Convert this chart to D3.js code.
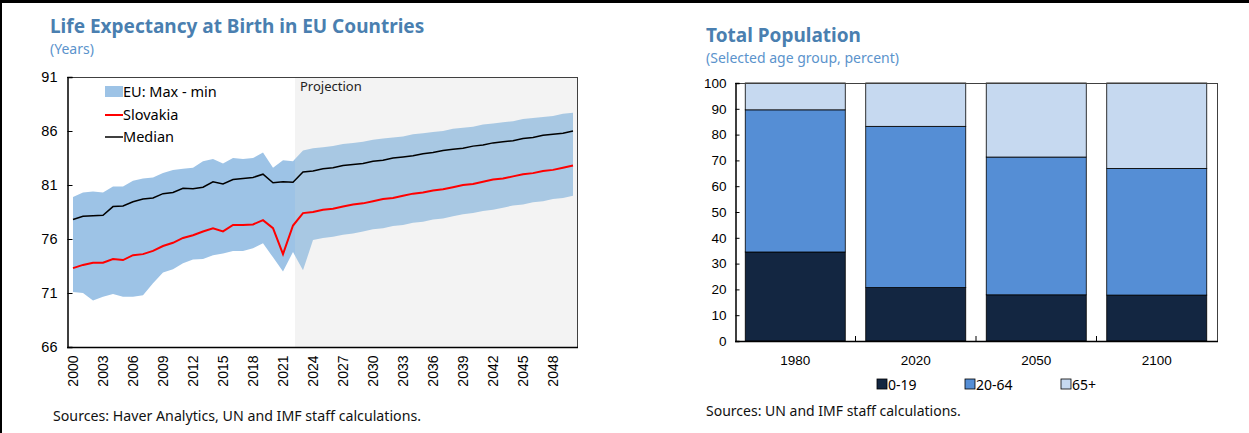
<!DOCTYPE html>
<html><head><meta charset="utf-8">
<script src="https://cdn.jsdelivr.net/npm/d3@7"></script>
<style>
body{margin:0;background:#fff;}
svg{display:block;font-family:"Noto Sans","Open Sans",sans-serif;}
</style></head>
<body>
<svg id="c" width="1249" height="433"></svg>
<script>
// ---------- Left chart data ----------
const years = d3.range(2000, 2051);
const euMax = [79.9,80.3,80.4,80.3,80.85,80.85,81.4,81.6,81.7,82.1,82.4,82.5,82.6,83.2,83.4,83.0,83.5,83.4,83.5,84.0,82.6,83.3,83.2,
  84.2,84.4,84.5,84.6,84.8,84.9,85.0,85.2,85.3,85.4,85.5,85.7,85.8,85.9,86.0,86.2,86.3,86.4,86.6,86.7,86.8,86.9,87.1,87.2,87.3,87.4,87.6,87.7];
const euMin = [71.1,71.0,70.3,70.65,70.9,70.65,70.65,70.8,71.9,72.9,73.2,73.75,74.1,74.15,74.5,74.65,74.9,74.9,75.15,75.6,74.3,73.0,74.8,
  73.1,75.9,76.1,76.2,76.4,76.5,76.7,76.9,77.0,77.2,77.3,77.5,77.6,77.8,77.9,78.1,78.3,78.4,78.6,78.7,78.9,79.1,79.2,79.4,79.5,79.7,79.8,80.0];
const slovakia = [73.3,73.6,73.8,73.8,74.15,74.05,74.5,74.6,74.9,75.35,75.65,76.1,76.35,76.7,77.0,76.7,77.3,77.3,77.35,77.75,77.0,74.6,77.25,
  78.4,78.5,78.7,78.8,79.0,79.2,79.3,79.5,79.7,79.8,80.0,80.2,80.3,80.5,80.6,80.8,81.0,81.1,81.3,81.5,81.6,81.8,82.0,82.1,82.3,82.4,82.6,82.8];
const median = [77.8,78.1,78.15,78.2,79.0,79.05,79.45,79.7,79.8,80.2,80.3,80.7,80.65,80.8,81.3,81.1,81.5,81.6,81.7,82.0,81.2,81.3,81.25,
  82.2,82.3,82.5,82.6,82.8,82.9,83.0,83.2,83.3,83.5,83.6,83.7,83.9,84.0,84.2,84.3,84.4,84.6,84.7,84.9,85.0,85.1,85.3,85.4,85.6,85.7,85.8,86.0];
const lastActualYear = 2022;
const yTicksLeft = [66,71,76,81,86,91];
const xTickYears = d3.range(2000, 2051, 3);

// ---------- Right chart data ----------
const popCategories = ["1980","2020","2050","2100"];
const ageGroups = ["0-19","20-64","65+"];
const age0_19 = [34.5,20.7,17.9,17.8];
const age20_64 = [55.1,62.5,53.4,49.1];
const age65plus = [10.4,16.8,28.7,33.1];
const yTicksRight = d3.range(0,101,10);

const svg = d3.select("#c");
const titleCol = "#4a7fb0", subCol = "#5b93cc";

// outer frame
svg.append("rect").attr("x",0).attr("y",0).attr("width",1249).attr("height",3).attr("fill","#000");
svg.append("rect").attr("x",0).attr("y",0).attr("width",2).attr("height",433).attr("fill","#000");

// ================= LEFT CHART =================
const L = {l:67, r:577, t:77, b:347};
const x = d3.scaleBand().domain(years).range([L.l+1, L.r+1]);
const xc = d => x(d) + x.bandwidth()/2;
const y = d3.scaleLinear().domain([66,91]).range([L.b, L.t]);

svg.append("text").attr("x",50).attr("y",33).attr("fill",titleCol)
  .attr("font-size",19).attr("font-weight","bold").text("Life Expectancy at Birth in EU Countries");
svg.append("text").attr("x",50).attr("y",54).attr("fill",subCol).attr("font-size",14).text("(Years)");

const projX = xc(lastActualYear) + 2;
svg.append("rect").attr("x",projX).attr("y",L.t).attr("width",L.r-projX).attr("height",L.b-L.t).attr("fill","#f3f3f3");

const defs = svg.append("defs");
defs.append("clipPath").attr("id","histClip").append("rect").attr("x",0).attr("y",0).attr("width",projX).attr("height",433);
defs.append("clipPath").attr("id","projClip").append("rect").attr("x",projX).attr("y",0).attr("width",L.r-projX).attr("height",433);

const band = years.map((yr,i)=>({yr, hi:euMax[i], lo:euMin[i]}));
const area = d3.area().x(d=>xc(d.yr)).y0(d=>y(d.lo)).y1(d=>y(d.hi));
svg.append("path").datum(band).attr("d",area).attr("fill","#9dc3e6").attr("clip-path","url(#histClip)");
svg.append("path").datum(band).attr("d",area).attr("fill","#a8c8e3").attr("clip-path","url(#projClip)");

const line = d3.line().x((d,i)=>xc(years[i])).y(d=>y(d));
svg.append("path").datum(median).attr("d",line).attr("fill","none").attr("stroke","#000").attr("stroke-width",1.5);
svg.append("path").datum(slovakia).attr("d",line).attr("fill","none").attr("stroke","#ff0000").attr("stroke-width",2);

// frame
svg.append("line").attr("x1",L.l).attr("x2",L.r).attr("y1",L.t+0.5).attr("y2",L.t+0.5).attr("stroke","#404040");
svg.append("line").attr("x1",L.r+0.5).attr("x2",L.r+0.5).attr("y1",L.t).attr("y2",L.b).attr("stroke","#404040");
// y axis
const yAx = svg.append("g").attr("transform",`translate(${L.l+0.5},0)`)
  .call(d3.axisLeft(y).tickValues(yTicksLeft).tickSize(-5).tickPadding(10).tickFormat(d3.format("d")));
yAx.select(".domain").attr("stroke","#000").attr("stroke-width",1.5);
yAx.selectAll("text").attr("font-size",14.5).attr("fill","#000").attr("font-family","inherit");
// x axis
const xAx = svg.append("g").attr("transform",`translate(0,${L.b+0.5})`)
  .call(d3.axisBottom(x).tickValues(xTickYears).tickSize(0).tickPadding(0));
xAx.select(".domain").attr("d",`M${L.l},0H${L.r+1}`).attr("stroke","#000").attr("stroke-width",1.5);
xAx.selectAll("text").attr("font-size",14).attr("fill","#000").attr("font-family","inherit")
  .attr("transform","rotate(-90)").attr("text-anchor","end").attr("x",-8).attr("y",0).attr("dy","0.35em");

svg.append("text").attr("x",300).attr("y",91).attr("font-size",13).attr("fill","#222").text("Projection");

// legend
const lg = svg.append("g").attr("font-size",14.5);
lg.append("rect").attr("x",105).attr("y",86).attr("width",18).attr("height",11).attr("fill","#9dc3e6");
lg.append("text").attr("x",123).attr("y",97).text("EU: Max - min");
lg.append("line").attr("x1",105).attr("x2",123).attr("y1",115).attr("y2",115).attr("stroke","#ff0000").attr("stroke-width",2);
lg.append("text").attr("x",123).attr("y",120).text("Slovakia");
lg.append("line").attr("x1",105).attr("x2",123).attr("y1",137).attr("y2",137).attr("stroke","#000").attr("stroke-width",1.5);
lg.append("text").attr("x",123).attr("y",142).text("Median");

svg.append("text").attr("x",53).attr("y",421).attr("font-size",14.2).attr("fill","#111")
  .text("Sources: Haver Analytics, UN and IMF staff calculations.");

// ================= RIGHT CHART =================
const R = {l:735, r:1217, t:83, b:341};
const xb = d3.scaleBand().domain(popCategories).range([R.l, R.r]).paddingInner(0.17).paddingOuter(0.085);
const yb = d3.scaleLinear().domain([0,100]).range([R.b, R.t]);

svg.append("text").attr("x",706).attr("y",42).attr("fill",titleCol)
  .attr("font-size",19).attr("font-weight","bold").text("Total Population");
svg.append("text").attr("x",706).attr("y",63).attr("fill",subCol).attr("font-size",14).text("(Selected age group, percent)");

const rows = popCategories.map((c,i)=>({cat:c, "0-19":age0_19[i], "20-64":age20_64[i], "65+":age65plus[i]}));
const stack = d3.stack().keys(ageGroups)(rows);
const colors = {"0-19":"#132641","20-64":"#558ed5","65+":"#c6d9f0"};
stack.forEach(s=>{
  svg.append("g").selectAll("rect").data(s).join("rect")
    .attr("x",d=>xb(d.data.cat)).attr("width",xb.bandwidth())
    .attr("y",d=>yb(Math.min(d[1],100))).attr("height",d=>yb(d[0])-yb(Math.min(d[1],100)))
    .attr("fill",colors[s.key]).attr("stroke","#000").attr("stroke-width",0.8);
});

svg.append("line").attr("x1",R.l).attr("x2",R.r).attr("y1",R.t+0.5).attr("y2",R.t+0.5).attr("stroke","#404040");
svg.append("line").attr("x1",R.r+0.5).attr("x2",R.r+0.5).attr("y1",R.t).attr("y2",R.b).attr("stroke","#404040");
const ybAx = svg.append("g").attr("transform",`translate(${R.l+0.5},0)`)
  .call(d3.axisLeft(yb).tickValues(yTicksRight).tickSize(-4).tickPadding(9).tickFormat(d3.format("d")));
ybAx.select(".domain").attr("stroke","#000").attr("stroke-width",1.5);
ybAx.selectAll("text").attr("font-size",13.5).attr("fill","#000").attr("font-family","inherit");
const xbAx = svg.append("g").attr("transform",`translate(0,${R.b+0.5})`)
  .call(d3.axisBottom(xb).tickSize(0).tickPadding(14));
xbAx.select(".domain").attr("d",`M${R.l},0H${R.r+1}`).attr("stroke","#000").attr("stroke-width",1.5);
xbAx.selectAll("text").attr("font-size",13.5).attr("fill","#000").attr("font-family","inherit");
// category separator ticks
const step = xb.step();
popCategories.slice(1).forEach(c=>{
  const bx = xb(c) - (step - xb.bandwidth())/2;
  svg.append("line").attr("x1",bx).attr("x2",bx).attr("y1",R.b).attr("y2",R.b-5).attr("stroke","#000");
});

// legend
const lg2 = svg.append("g").attr("font-size",14);
const legX = [877, 965, 1061];
ageGroups.forEach((g,i)=>{
  lg2.append("rect").attr("x",legX[i]).attr("y",379).attr("width",10).attr("height",10)
    .attr("fill",colors[g]).attr("stroke","#000").attr("stroke-width",0.8);
  lg2.append("text").attr("x",legX[i]+11).attr("y",390).text(g);
});

svg.append("text").attr("x",706).attr("y",416).attr("font-size",14).attr("fill","#111")
  .text("Sources: UN and IMF staff calculations.");
</script>
</body></html>
